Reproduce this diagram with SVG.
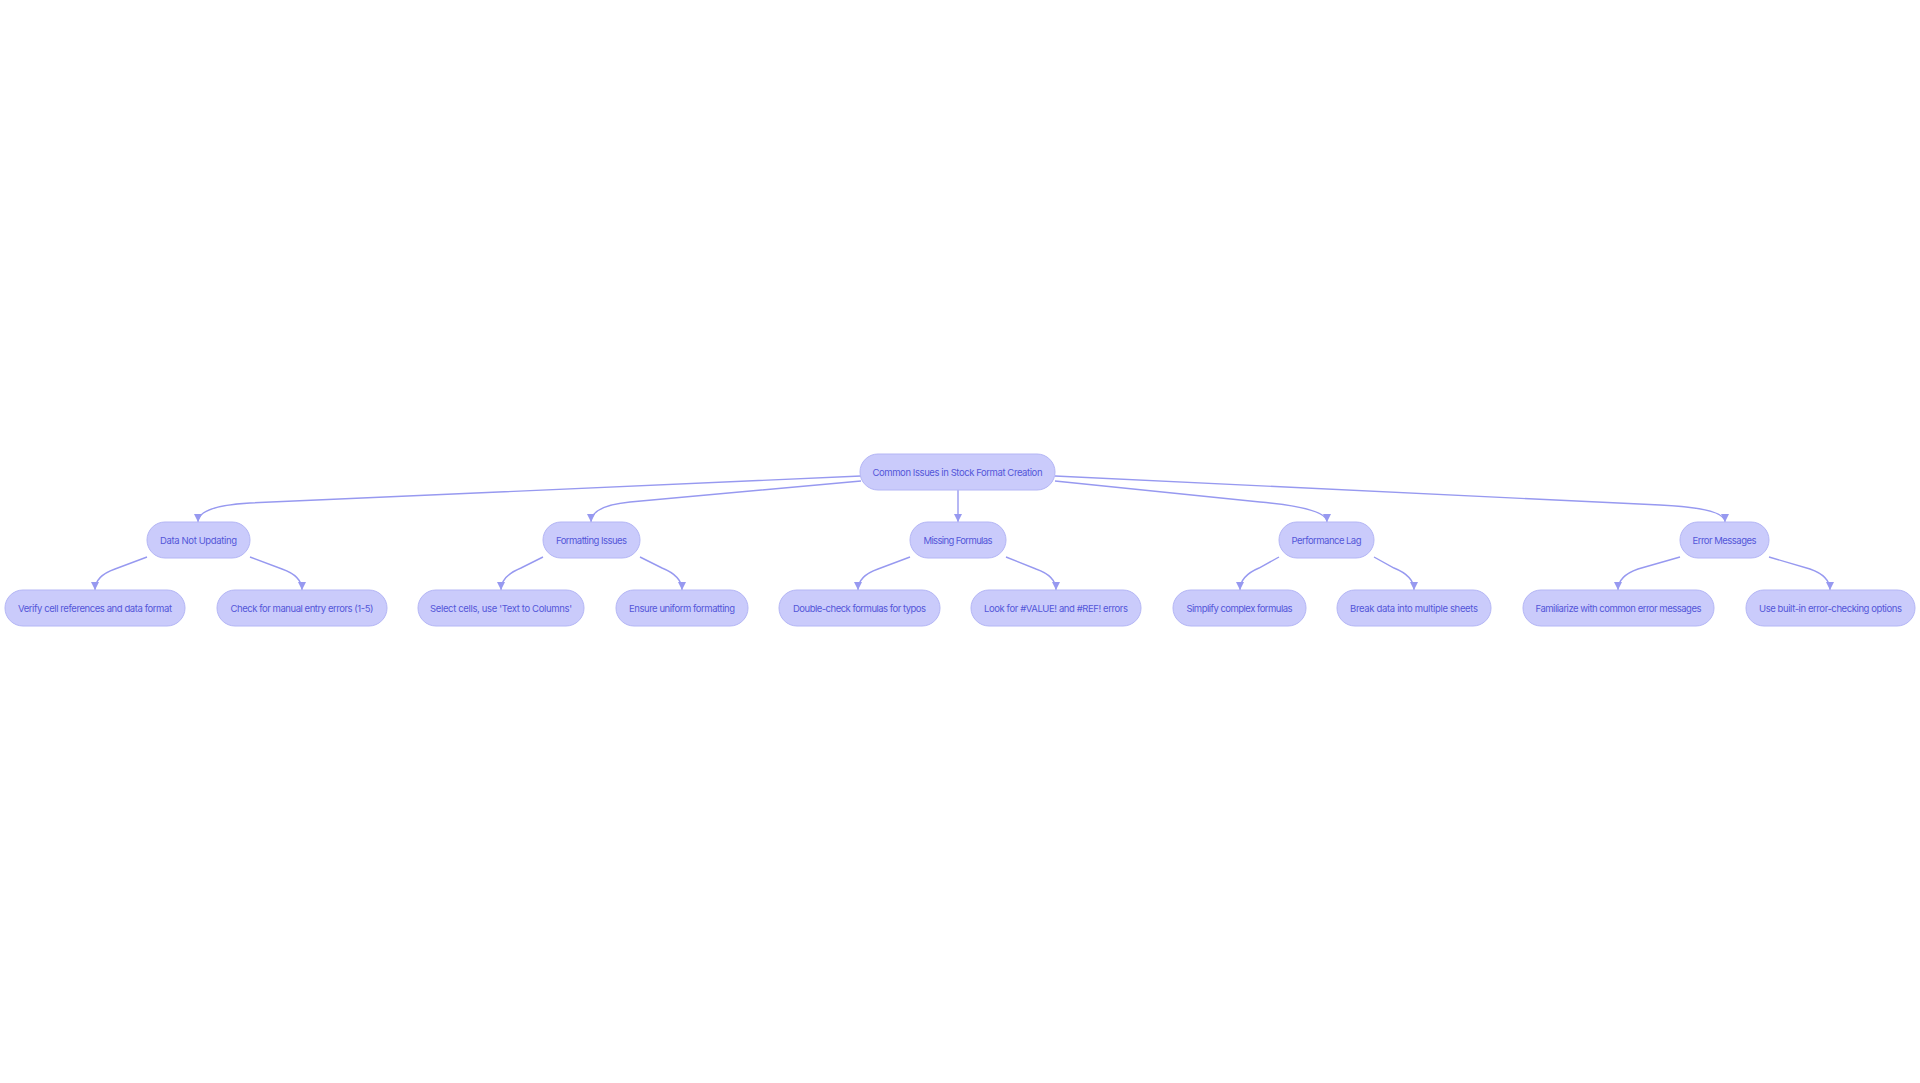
<svg xmlns="http://www.w3.org/2000/svg" width="1920" height="1083" viewBox="0 0 1920 1083">
<style>
.node rect{fill:#cacbfb;stroke:#b4b6f5;stroke-width:1}
.node text{font-family:Inter,"Liberation Sans",sans-serif;font-size:9.5px;fill:#5457d9;text-anchor:middle;dominant-baseline:central}
.edges path{fill:none;stroke:#9799f0;stroke-width:1.4}
</style>
<defs>
<marker id="arr" viewBox="0 0 10 10" refX="10" refY="5" markerUnits="userSpaceOnUse" markerWidth="8" markerHeight="9" orient="auto">
<path d="M0,0 L10,5 L0,10 z" fill="#9799f0"/>
</marker>
</defs>
<rect width="1920" height="1083" fill="#ffffff"/>
<g class="edges">
<path marker-end="url(#arr)" d="M861,476 L250,503 Q198,506 198,522"/>
<path marker-end="url(#arr)" d="M861,481 L630,502 Q591,506 591,522"/>
<path marker-end="url(#arr)" d="M958,490 L958,522"/>
<path marker-end="url(#arr)" d="M1055,481 L1260,502 Q1327,508 1327,522"/>
<path marker-end="url(#arr)" d="M1055,476 L1660,505 Q1725,508 1725,522"/>
<path marker-end="url(#arr)" d="M147,557 L115,569 Q95,576 95,590"/>
<path marker-end="url(#arr)" d="M250,557 L282,569 Q302,576 302,590"/>
<path marker-end="url(#arr)" d="M543,557 L521,568 Q501,576 501,590"/>
<path marker-end="url(#arr)" d="M640,557 L662,568 Q682,576 682,590"/>
<path marker-end="url(#arr)" d="M910,557 L878,569 Q858,576 858,590"/>
<path marker-end="url(#arr)" d="M1006,557 L1036,569 Q1056,576 1056,590"/>
<path marker-end="url(#arr)" d="M1279,557 L1259,568 Q1240,576 1240,590"/>
<path marker-end="url(#arr)" d="M1374,557 L1394,568 Q1414,576 1414,590"/>
<path marker-end="url(#arr)" d="M1680,557 L1638,569 Q1618,576 1618,590"/>
<path marker-end="url(#arr)" d="M1769,557 L1810,569 Q1830,576 1830,590"/>
</g>
<g id="root" class="node"><rect x="860" y="454" width="195" height="36" rx="18"/><text x="957.5" y="472" textLength="170">Common Issues in Stock Format Creation</text></g>
<g id="n1" class="node"><rect x="147" y="522" width="103" height="36" rx="18"/><text x="198.5" y="540" textLength="77">Data Not Updating</text></g>
<g id="n2" class="node"><rect x="543" y="522" width="97" height="36" rx="18"/><text x="591.5" y="540" textLength="71">Formatting Issues</text></g>
<g id="n3" class="node"><rect x="910" y="522" width="96" height="36" rx="18"/><text x="958" y="540" textLength="69">Missing Formulas</text></g>
<g id="n4" class="node"><rect x="1279" y="522" width="95" height="36" rx="18"/><text x="1326.5" y="540" textLength="70">Performance Lag</text></g>
<g id="n5" class="node"><rect x="1680" y="522" width="89" height="36" rx="18"/><text x="1724.5" y="540" textLength="64">Error Messages</text></g>
<g id="n1a" class="node"><rect x="5" y="590" width="180" height="36" rx="18"/><text x="95" y="608" textLength="154">Verify cell references and data format</text></g>
<g id="n1b" class="node"><rect x="217" y="590" width="170" height="36" rx="18"/><text x="302" y="608" textLength="143">Check for manual entry errors (1-5)</text></g>
<g id="n2a" class="node"><rect x="418" y="590" width="166" height="36" rx="18"/><text x="501" y="608" textLength="142">Select cells, use 'Text to Columns'</text></g>
<g id="n2b" class="node"><rect x="616" y="590" width="132" height="36" rx="18"/><text x="682" y="608" textLength="106">Ensure uniform formatting</text></g>
<g id="n3a" class="node"><rect x="779" y="590" width="161" height="36" rx="18"/><text x="859.5" y="608" textLength="133">Double-check formulas for typos</text></g>
<g id="n3b" class="node"><rect x="971" y="590" width="170" height="36" rx="18"/><text x="1056" y="608" textLength="144">Look for #VALUE! and #REF! errors</text></g>
<g id="n4a" class="node"><rect x="1173" y="590" width="133" height="36" rx="18"/><text x="1239.5" y="608" textLength="106">Simplify complex formulas</text></g>
<g id="n4b" class="node"><rect x="1337" y="590" width="154" height="36" rx="18"/><text x="1414" y="608" textLength="128">Break data into multiple sheets</text></g>
<g id="n5a" class="node"><rect x="1523" y="590" width="191" height="36" rx="18"/><text x="1618.5" y="608" textLength="166">Familiarize with common error messages</text></g>
<g id="n5b" class="node"><rect x="1746" y="590" width="169" height="36" rx="18"/><text x="1830.5" y="608" textLength="143">Use built-in error-checking options</text></g>
</svg>
